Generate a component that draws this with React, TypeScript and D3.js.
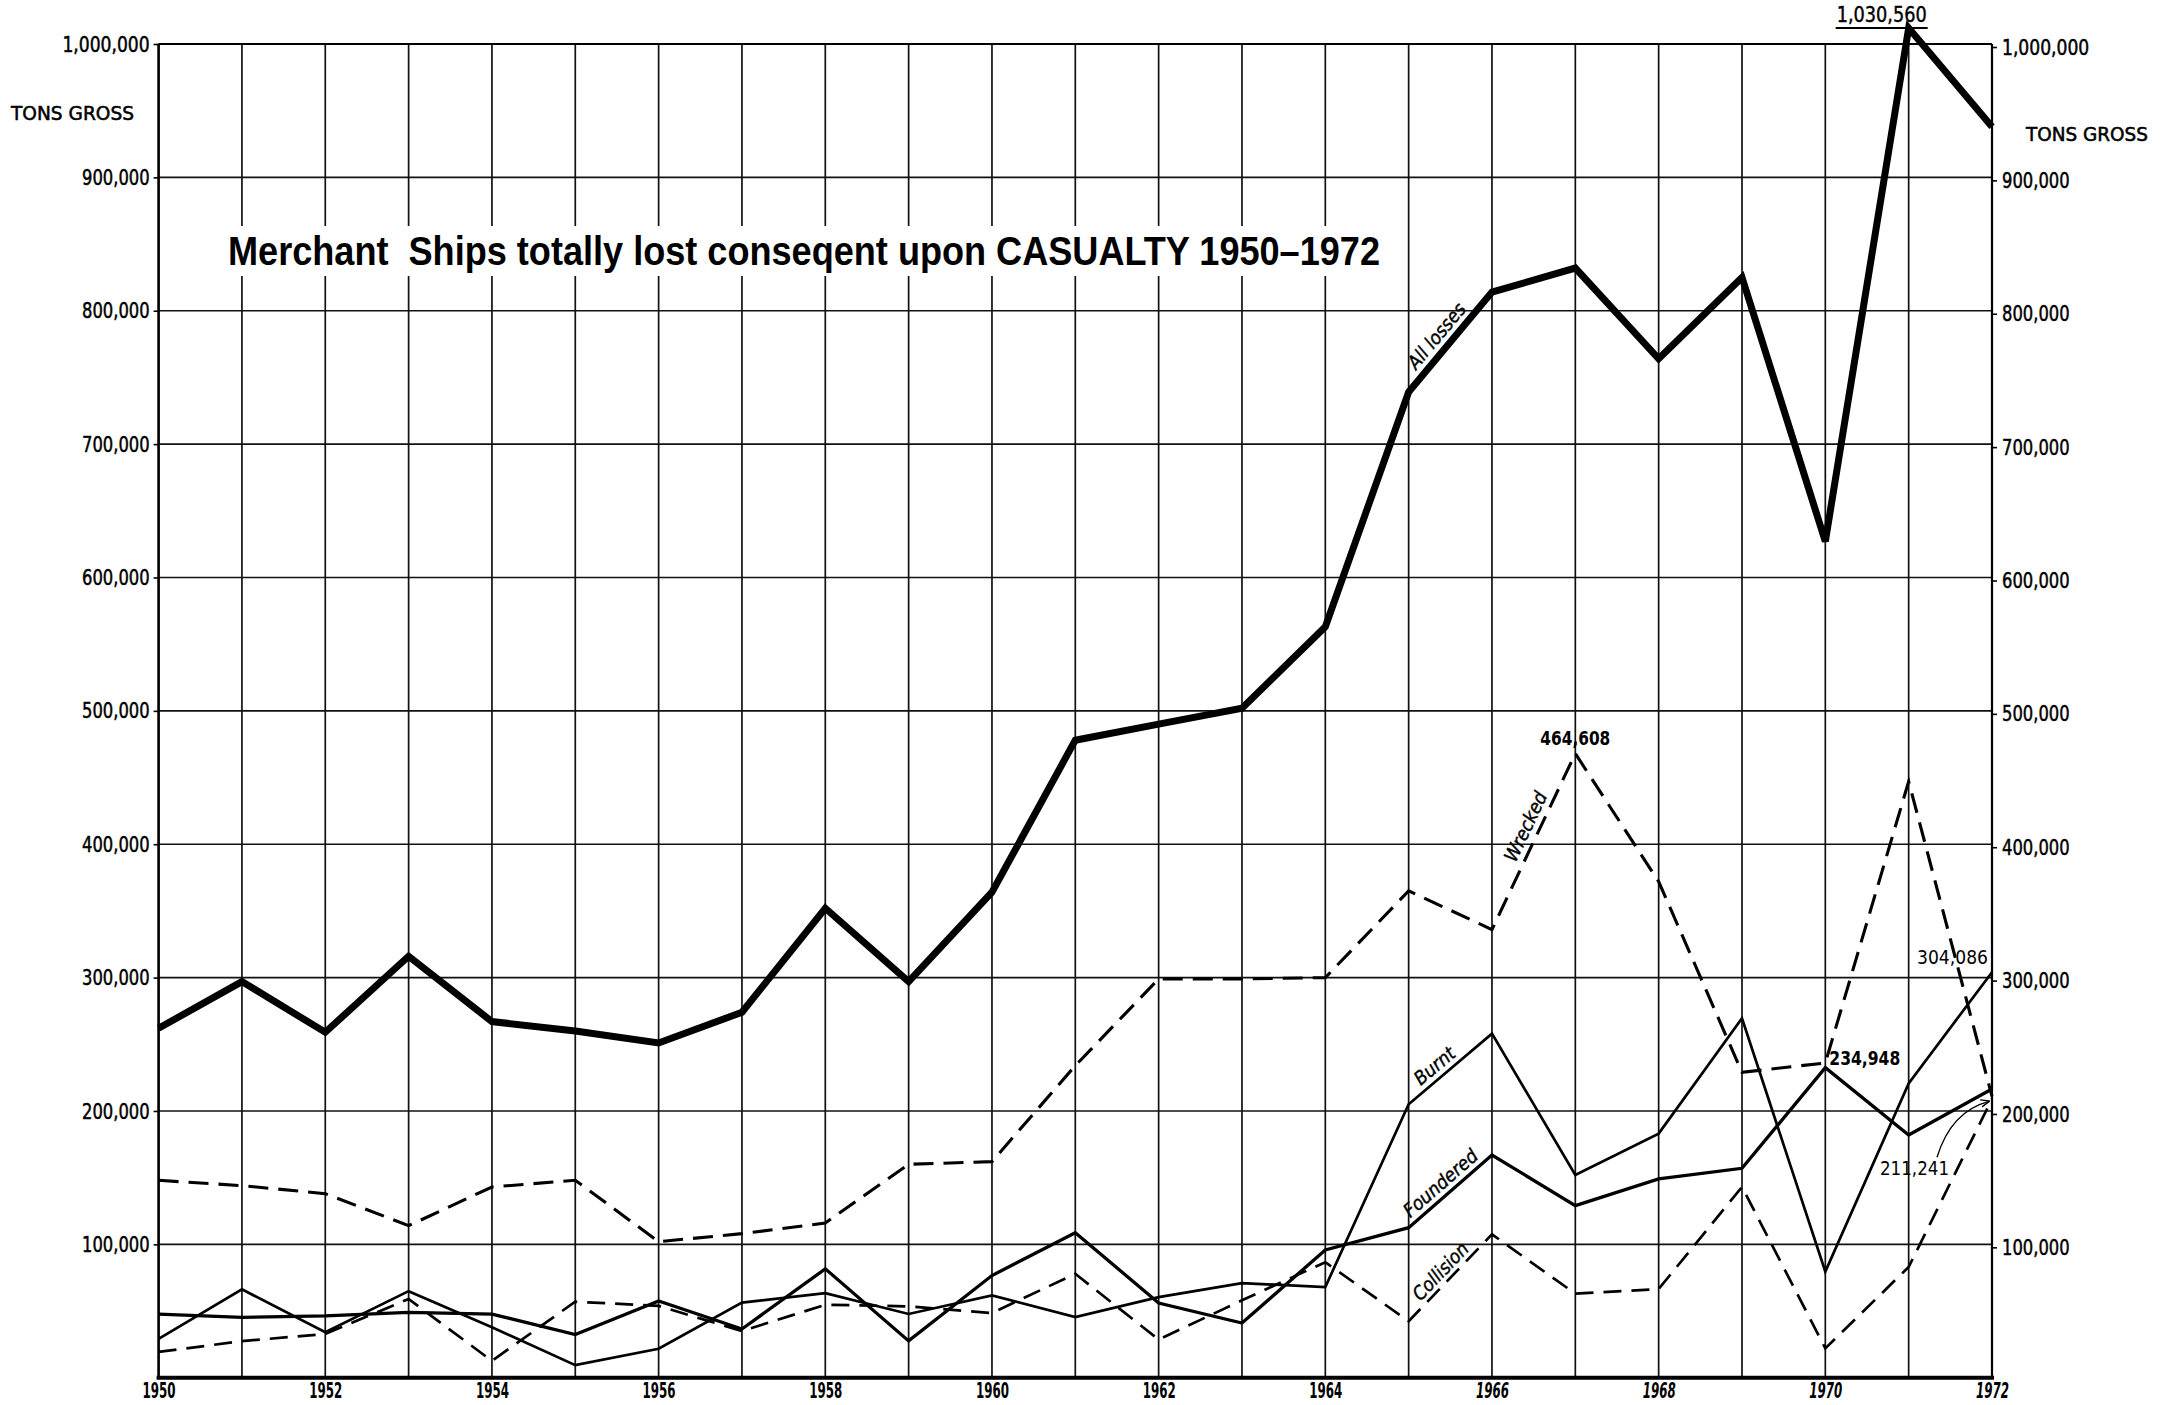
import React, { useEffect, useRef } from "react";
import * as d3 from "d3";

const years = [
  1950, 1951, 1952, 1953, 1954, 1955, 1956, 1957, 1958, 1959, 1960, 1961,
  1962, 1963, 1964, 1965, 1966, 1967, 1968, 1969, 1970, 1971, 1972,
];

// tons gross
const allLosses = [
  262000, 297000, 259000, 316000, 267000, 260000, 251000, 274000, 352000,
  297000, 364000, 478000, 490000, 502000, 563000, 739000, 814000, 832000,
  764000, 825000, 627000, 1012000, 938000,
];
const wrecked = [
  148000, 144000, 138000, 114000, 143000, 148000, 102000, 108000, 116000,
  160000, 162000, 234000, 299000, 299000, 300000, 365000, 336000, 468000,
  372000, 229000, 236000, 447000, 211000,
];
const burnt = [
  29100, 66200, 34100, 64900, 37800, 9400, 21700, 56300, 63400, 47800, 61700,
  45500, 60400, 70900, 68000, 205000, 258000, 152000, 183000, 269500, 79500,
  220700, 304000,
];
const foundered = [
  47700, 45200, 46400, 49000, 47700, 32300, 57500, 36500, 81600, 27600, 76600,
  108700, 56000, 41000, 95800, 112500, 167000, 129000, 149000, 157000, 232500,
  182000, 216500,
];
const collision = [
  19300, 27400, 32800, 59000, 12600, 57000, 53800, 35000, 54700, 53500, 48500,
  77900, 28600, 58000, 86600, 42300, 107500, 63000, 66500, 143000, 22000,
  83000, 209000,
];

const yTicks = [
  100000, 200000, 300000, 400000, 500000, 600000, 700000, 800000, 900000,
  1000000,
];
const yearLabels = [
  1950, 1952, 1954, 1956, 1958, 1960, 1962, 1964, 1966, 1968, 1970, 1972,
];

const title = "Merchant  Ships totally lost conseqent upon CASUALTY 1950\u20131972";
const FONT = "'DejaVu Sans Condensed', 'DejaVu Sans', sans-serif";

export default function App() {
  const ref = useRef<SVGSVGElement>(null);

  useEffect(() => {
    draw();
  }, []);

  let draw = () => {
    let svg = d3.select(ref.current);
    svg.selectAll("*").remove();

    let width = 2163;
    let height = 1405;
    let margin = { left: 158.6, right: 171, top: 44, bottom: 27.3 };

    let x = d3
      .scaleLinear()
      .domain([1950, 1972])
      .range([margin.left, width - margin.right]);
    let y = d3
      .scaleLinear()
      .domain([0, 1000000])
      .range([height - margin.bottom, margin.top]);

    svg.append("rect").attr("width", width).attr("height", height).attr("fill", "#fff");

    // grid
    svg
      .append("g")
      .selectAll("line")
      .data(years)
      .enter()
      .append("line")
      .attr("x1", (d) => x(d))
      .attr("x2", (d) => x(d))
      .attr("y1", y(0))
      .attr("y2", y(1000000))
      .attr("stroke", "#111")
      .attr("stroke-width", 1.7);

    svg
      .append("g")
      .selectAll("line")
      .data(yTicks)
      .enter()
      .append("line")
      .attr("x1", x(1950))
      .attr("x2", x(1972))
      .attr("y1", (d) => y(d))
      .attr("y2", (d) => y(d))
      .attr("stroke", "#111")
      .attr("stroke-width", 1.6);

    // frame
    svg.append("line").attr("x1", x(1950)).attr("x2", x(1950)).attr("y1", y(0)).attr("y2", y(1000000)).attr("stroke", "#000").attr("stroke-width", 2.5);
    svg.append("line").attr("x1", x(1972)).attr("x2", x(1972)).attr("y1", y(0)).attr("y2", y(1000000)).attr("stroke", "#000").attr("stroke-width", 2.2);
    svg.append("line").attr("x1", x(1950) - 2).attr("x2", x(1972) + 2).attr("y1", y(0)).attr("y2", y(0)).attr("stroke", "#000").attr("stroke-width", 4);
    svg.append("line").attr("x1", x(1950)).attr("x2", x(1972)).attr("y1", y(1000000)).attr("y2", y(1000000)).attr("stroke", "#000").attr("stroke-width", 2);

    // axes
    let fmt = d3.format(",");
    let labelWidth = (s: string) => (s.replace(/,/g, "").length * 9.6 + (s.split(",").length - 1) * 10);
    let left = svg
      .append("g")
      .attr("transform", `translate(${x(1950)},0)`)
      .call(d3.axisLeft(y).tickValues(yTicks).tickFormat((d) => fmt(d as number)).tickSize(5).tickPadding(4));
    let right = svg
      .append("g")
      .attr("transform", `translate(${x(1972)},3)`)
      .call(d3.axisRight(y).tickValues(yTicks).tickFormat((d) => fmt(d as number)).tickSize(5).tickPadding(5));
    [left, right].forEach((g) => {
      g.select(".domain").remove();
      g.selectAll(".tick line").attr("stroke", "#000").attr("stroke-width", 1.6);
      g.selectAll(".tick text")
        .attr("fill", "#000")
        .attr("stroke", "#000")
        .attr("stroke-width", 0.5)
        .attr("textLength", (d) => labelWidth(fmt(d as number)))
        .attr("lengthAdjust", "spacingAndGlyphs")
        .style("font-family", FONT)
        .style("font-size", "22px");
    });

    let bottom = svg
      .append("g")
      .attr("transform", `translate(0,${y(0)})`)
      .call(d3.axisBottom(x).tickValues(yearLabels).tickFormat((d) => String(d)).tickSize(0).tickPadding(5));
    bottom.select(".domain").remove();
    bottom
      .selectAll(".tick text")
      .attr("fill", "#000")
      .attr("textLength", 33)
      .attr("lengthAdjust", "spacingAndGlyphs")
      .style("font-family", FONT)
      .style("font-size", "22px")
      .style("font-weight", "bold")
      .style("font-style", (d) => ((d as number) >= 1966 ? "italic" : "normal"));

    // axis titles
    svg.append("text").attr("x", 11).attr("y", 120).attr("textLength", 123).attr("lengthAdjust", "spacingAndGlyphs")
      .attr("stroke", "#000").attr("stroke-width", 0.5)
      .style("font-family", FONT).style("font-size", "19px").text("TONS GROSS");
    svg.append("text").attr("x", 2026).attr("y", 141).attr("textLength", 122).attr("lengthAdjust", "spacingAndGlyphs")
      .attr("stroke", "#000").attr("stroke-width", 0.5)
      .style("font-family", FONT).style("font-size", "19px").text("TONS GROSS");

    // title
    let titleBox = svg.append("rect").attr("fill", "#fff");
    let titleText = svg
      .append("text")
      .attr("x", 228)
      .attr("y", 265)
      .attr("textLength", 1152)
      .attr("lengthAdjust", "spacingAndGlyphs")
      .style("white-space", "pre")
      .style("font-family", "'Liberation Sans Narrow', 'Liberation Sans', Arial, sans-serif")
      .style("font-size", "41px")
      .style("font-weight", "bold")
      .text(title);
    let bb = (titleText.node() as SVGTextElement).getBBox();
    titleBox
      .attr("x", bb.x - 8)
      .attr("y", bb.y - 2)
      .attr("width", bb.width + 16)
      .attr("height", bb.height + 4);

    // series
    let line = d3
      .line<number>()
      .x((d, i) => x(years[i]))
      .y((d) => y(d));

    let series = [
      { name: "Collision", data: collision, width: 2.7, dash: "18,10" },
      { name: "Burnt", data: burnt, width: 2.7, dash: null },
      { name: "Foundered", data: foundered, width: 3.3, dash: null },
      { name: "Wrecked", data: wrecked, width: 3.1, dash: "20,10" },
      { name: "All losses", data: allLosses, width: 7, dash: null },
    ];

    svg
      .append("g")
      .selectAll("path")
      .data(series)
      .enter()
      .append("path")
      .attr("d", (s) => line(s.data))
      .attr("fill", "none")
      .attr("stroke", "#000")
      .attr("stroke-width", (s) => s.width)
      .attr("stroke-dasharray", (s) => s.dash)
      .attr("stroke-linejoin", "miter")
      .attr("stroke-miterlimit", 4);

    // series names written along a segment
    let labelAt = [
      { name: "All losses", data: allLosses, year: 1965, off: 8, along: -4 },
      { name: "Wrecked", data: wrecked, year: 1966, off: 7, along: 10 },
      { name: "Burnt", data: burnt, year: 1965, off: 6, along: -10 },
      { name: "Foundered", data: foundered, year: 1965, off: 6, along: -2 },
      { name: "Collision", data: collision, year: 1965, off: 5, along: -2 },
    ];
    labelAt.forEach((l) => {
      let i = years.indexOf(l.year);
      let x0 = x(years[i]), y0 = y(l.data[i]);
      let x1 = x(years[i + 1]), y1 = y(l.data[i + 1]);
      let dx = x1 - x0, dy = y1 - y0;
      let len = Math.sqrt(dx * dx + dy * dy);
      let ux = dx / len, uy = dy / len;
      let nx = uy, ny = -ux;
      let cx = (x0 + x1) / 2 + nx * l.off + ux * l.along;
      let cy = (y0 + y1) / 2 + ny * l.off + uy * l.along;
      let ang = (Math.atan2(dy, dx) * 180) / Math.PI;
      svg
        .append("text")
        .attr("transform", `translate(${cx},${cy}) rotate(${ang})`)
        .attr("text-anchor", "middle")
        .attr("stroke", "#000")
        .attr("stroke-width", 0.4)
        .style("font-family", FONT)
        .style("font-size", "19px")
        .style("font-style", "italic")
        .text(l.name);
    });

    // value notes
    svg.append("text").attr("x", x(1971) - 27).attr("y", 22).attr("text-anchor", "middle")
      .attr("textLength", 90).attr("lengthAdjust", "spacingAndGlyphs")
      .attr("stroke", "#000").attr("stroke-width", 0.4)
      .style("font-family", FONT).style("font-size", "21px").text("1,030,560");
    svg.append("line").attr("x1", x(1971) - 73).attr("x2", x(1971) + 19).attr("y1", 28).attr("y2", 28)
      .attr("stroke", "#000").attr("stroke-width", 1.8);

    let i67 = years.indexOf(1967);
    svg.append("text").attr("x", x(1967)).attr("y", y(wrecked[i67]) - 9).attr("text-anchor", "middle")
      .attr("textLength", 70).attr("lengthAdjust", "spacingAndGlyphs")
      .style("font-family", FONT).style("font-size", "20px").style("font-weight", "bold").text("464,608");

    let i70 = years.indexOf(1970);
    svg.append("text").attr("x", x(1970) + 4).attr("y", y(wrecked[i70]) + 2)
      .attr("textLength", 71).attr("lengthAdjust", "spacingAndGlyphs")
      .style("font-family", FONT).style("font-size", "20px").style("font-weight", "bold").text("234,948");

    let i72 = years.indexOf(1972);
    svg.append("text").attr("x", x(1972) - 4).attr("y", y(burnt[i72]) - 8).attr("text-anchor", "end")
      .attr("textLength", 71).attr("lengthAdjust", "spacingAndGlyphs")
      .style("font-family", FONT).style("font-size", "20px").text("304,086");

    svg.append("text").attr("x", x(1972) - 43).attr("y", y(wrecked[i72]) + 79).attr("text-anchor", "end")
      .attr("textLength", 69).attr("lengthAdjust", "spacingAndGlyphs")
      .style("font-family", FONT).style("font-size", "20px").text("211,241");

    let defs = svg.append("defs");
    defs
      .append("marker")
      .attr("id", "arrow")
      .attr("viewBox", "0 0 10 10")
      .attr("refX", 9)
      .attr("refY", 5)
      .attr("markerWidth", 7)
      .attr("markerHeight", 7)
      .attr("orient", "auto")
      .append("path")
      .attr("d", "M0,1 L10,5 L0,9")
      .attr("fill", "none")
      .attr("stroke", "#000")
      .attr("stroke-width", 1.5);
    let tx = x(1972) - 3, ty = y(wrecked[i72]) + 5;
    svg
      .append("path")
      .attr("d", `M${tx - 52},${ty + 56} Q${tx - 38},${ty + 10} ${tx},${ty}`)
      .attr("fill", "none")
      .attr("stroke", "#000")
      .attr("stroke-width", 1.3)
      .attr("marker-end", "url(#arrow)");
  };

  return (
    <svg
      ref={ref}
      width={2163}
      height={1405}
      style={{ position: "absolute", left: 0, top: 0, background: "#fff" }}
    />
  );
}
